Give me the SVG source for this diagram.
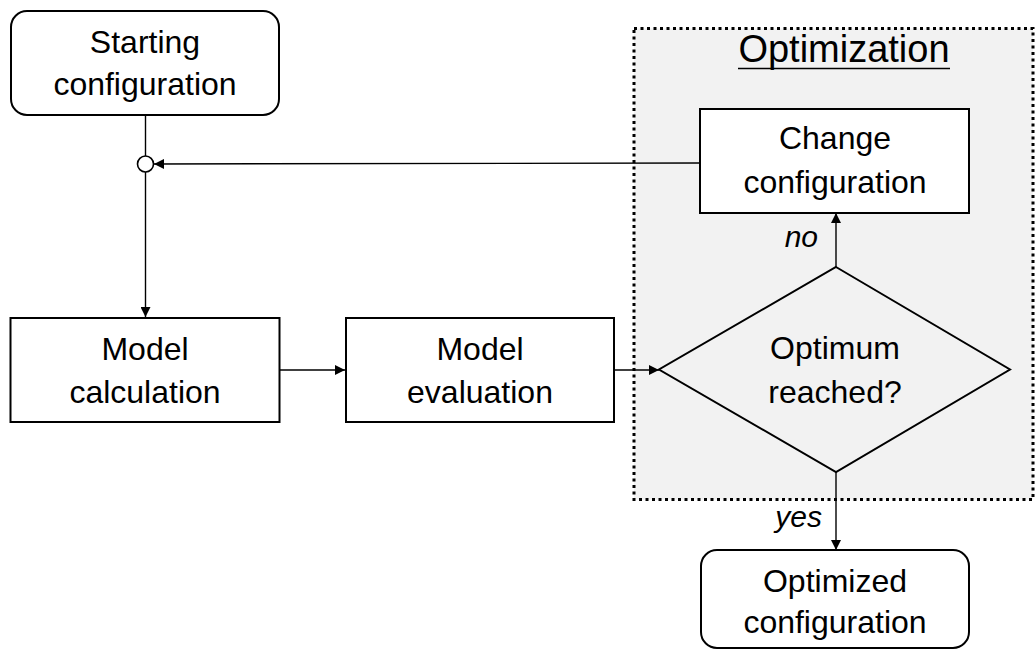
<svg xmlns="http://www.w3.org/2000/svg" width="1035" height="650" viewBox="0 0 1035 650">
  <style>
    .box { fill: #ffffff; stroke: #000000; stroke-width: 2; }
    .opt { fill: #f2f2f2; stroke: #000000; stroke-width: 3; stroke-dasharray: 3 3.5; }
    .lbl { font-family: "Liberation Sans", Arial, sans-serif; font-size: 32px; fill: #000000; text-anchor: middle; }
    .title { font-family: "Liberation Sans", Arial, sans-serif; font-size: 38px; fill: #000000; text-anchor: middle; }
    .edge { font-family: "Liberation Sans", Arial, sans-serif; font-size: 30px; font-style: italic; fill: #000000; text-anchor: end; }
    .link { fill: none; stroke: #000000; stroke-width: 1.4; }
  </style>
  <defs>
    <marker id="arrow" viewBox="0 0 10 10" refX="10" refY="5" markerWidth="10" markerHeight="10" markerUnits="userSpaceOnUse" orient="auto">
      <path d="M0,0 L10,5 L0,10 Z" fill="#000000"/>
    </marker>
  </defs>

  <rect width="1035" height="650" fill="#ffffff"/>

  <!-- optimization region -->
  <g id="optimization">
    <rect class="opt" x="634" y="28.5" width="399" height="471"/>
    <text class="title" x="844" y="62">Optimization</text>
    <line x1="738" y1="68.5" x2="950" y2="68.5" stroke="#000000" stroke-width="1.6"/>
  </g>

  <!-- connectors -->
  <g id="connectors">
    <line class="link" x1="145.5" y1="115" x2="145.5" y2="156"/>
    <line class="link" x1="145.5" y1="172" x2="145.5" y2="317" marker-end="url(#arrow)"/>
    <line class="link" x1="700" y1="163" x2="154" y2="164" marker-end="url(#arrow)"/>
    <line class="link" x1="280" y1="370" x2="345" y2="370" marker-end="url(#arrow)"/>
    <line class="link" x1="614" y1="370" x2="659" y2="370" marker-end="url(#arrow)"/>
    <line class="link" x1="836" y1="267" x2="836" y2="213" marker-end="url(#arrow)"/>
    <line class="link" x1="836" y1="472" x2="836" y2="550" marker-end="url(#arrow)"/>
    <text class="edge" x="818" y="247">no</text>
    <text class="edge" x="822" y="527">yes</text>
  </g>

  <!-- junction -->
  <g id="junction">
    <circle cx="145.5" cy="164" r="8" fill="#ffffff" stroke="#000000" stroke-width="1.6"/>
  </g>

  <g id="starting-configuration">
    <rect class="box" x="11" y="11" width="268" height="104" rx="16" ry="16"/>
    <text class="lbl" x="145" y="53">Starting</text>
    <text class="lbl" x="145" y="95">configuration</text>
  </g>

  <g id="model-calculation">
    <rect class="box" x="10.5" y="318" width="269" height="104"/>
    <text class="lbl" x="145" y="360">Model</text>
    <text class="lbl" x="145" y="403">calculation</text>
  </g>

  <g id="model-evaluation">
    <rect class="box" x="346" y="318" width="268" height="104"/>
    <text class="lbl" x="480" y="360">Model</text>
    <text class="lbl" x="480" y="403">evaluation</text>
  </g>

  <g id="change-configuration">
    <rect class="box" x="700" y="109" width="269" height="104"/>
    <text class="lbl" x="835" y="149">Change</text>
    <text class="lbl" x="835" y="193">configuration</text>
  </g>

  <g id="optimum-reached">
    <polygon points="836,267 1010,369.5 836,472 659,369.5" fill="#f2f2f2" stroke="#000000" stroke-width="2"/>
    <text class="lbl" x="835" y="359">Optimum</text>
    <text class="lbl" x="835" y="403">reached?</text>
  </g>

  <g id="optimized-configuration">
    <rect class="box" x="701" y="550" width="268" height="98" rx="16" ry="16"/>
    <text class="lbl" x="835" y="592">Optimized</text>
    <text class="lbl" x="835" y="633">configuration</text>
  </g>
</svg>
